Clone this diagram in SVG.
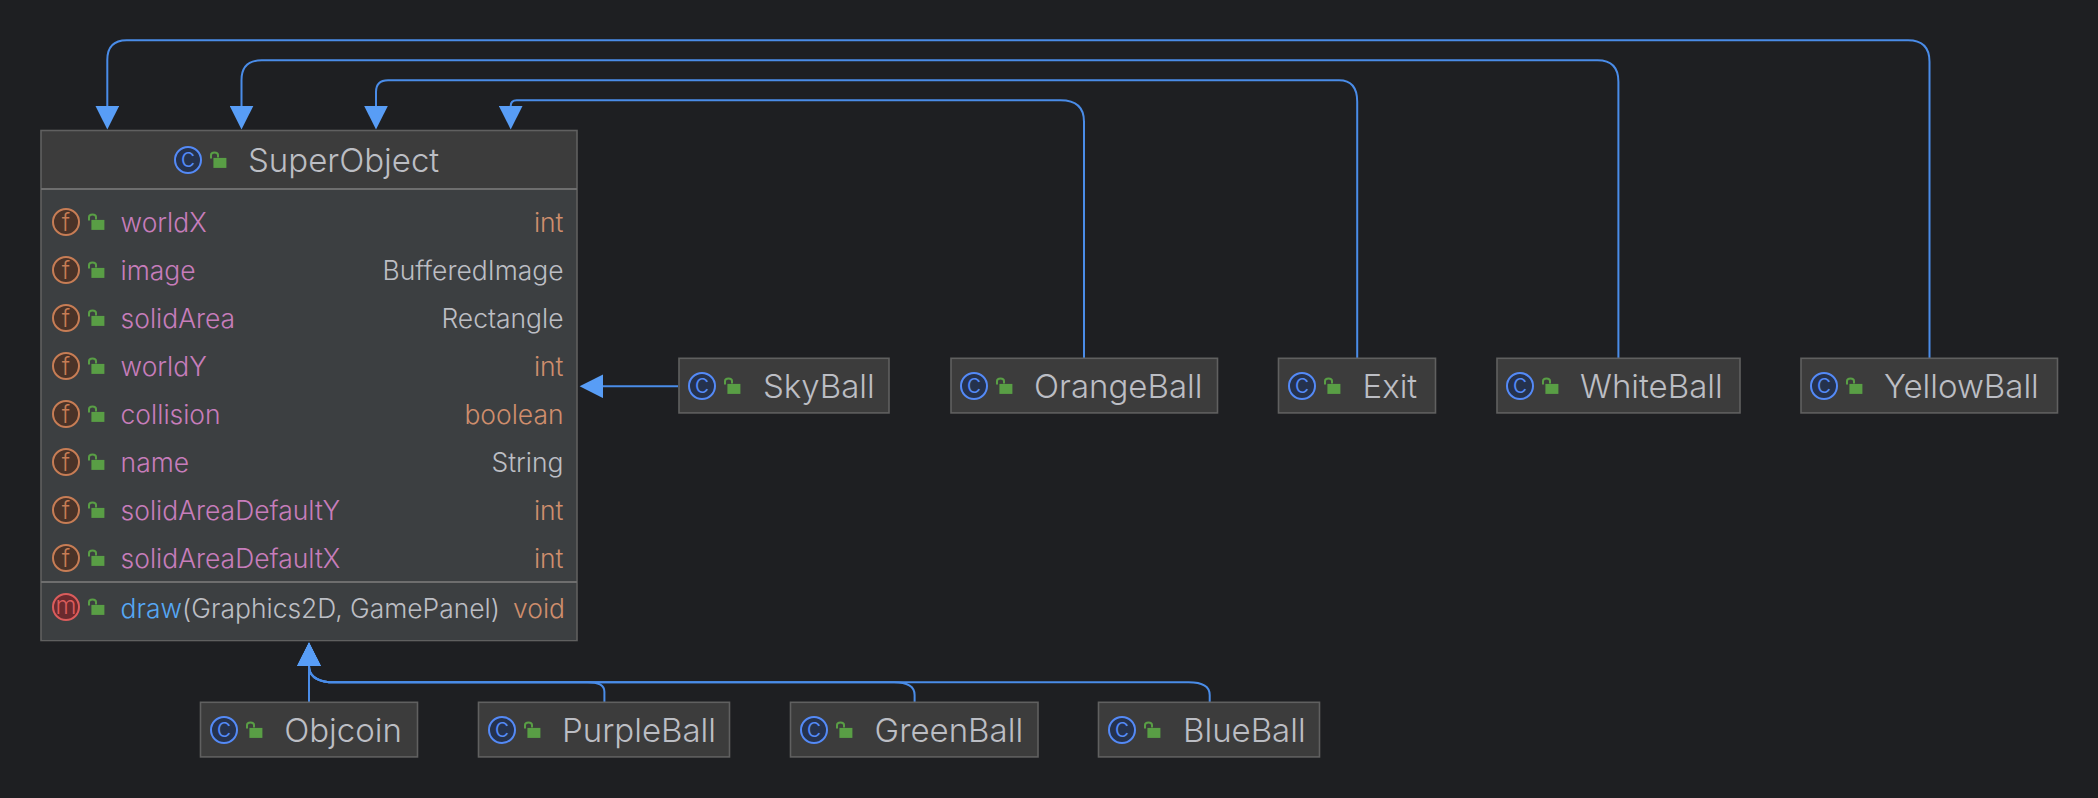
<svg xmlns="http://www.w3.org/2000/svg" width="2098" height="798" viewBox="0 0 2098 798">
<style>
text{font-family:"Inter","Noto Sans","Liberation Sans",sans-serif;fill:#BCBEC4;font-weight:300}
.box{fill:#3C3C3C;stroke:#606060;stroke-width:1.6}
.body{fill:#3C3F41}
.div{stroke:#6E6E6E;stroke-width:2;fill:none}
.title{font-size:33px}
.row{font-size:26.45px}
.fld{fill:#C77DBB}
.kw{fill:#CF8E6D}
.mth{fill:#56A8F5}
.ty{text-anchor:end}
.ic{font-size:26px;text-anchor:middle}
.cc{fill:#25324D;stroke:#548AF7;stroke-width:2}
.ct{fill:#548AF7}
.fc{fill:#4A3328;stroke:#C77D55;stroke-width:2}
.ft{fill:#C77D55;font-size:24px}
.mc{fill:#6B2A2E;stroke:#DB5C5C;stroke-width:2}
.mt{fill:#DB5C5C;font-size:24px}
.conn{fill:none;stroke:#4A8CE8;stroke-width:2;marker-end:url(#tri)}
</style>
<defs>
<marker id="tri" markerUnits="userSpaceOnUse" markerWidth="24" markerHeight="24" refX="0" refY="12" orient="auto"><path d="M0 0.2L23.4 12L0 23.8z" fill="#589DF6"/></marker>
<g id="lock"><path d="M1 7V3.5Q1 1 4.5 1T8 3.5V6" fill="none" stroke="#599E45" stroke-width="2"/><rect x="3.4" y="6.4" width="13" height="10" fill="#599E45"/></g>
</defs>
<rect width="2098" height="798" fill="#1E1F22"/>
<g id="connectors">
<path class="conn" d="M1929.5 358V61.7Q1929.5 40.3 1908 40.3H126.7Q107.3 40.3 107.3 60V106"/>
<path class="conn" d="M1618.4 358V81.7Q1618.4 60.3 1597.5 60.3H261.7Q241.5 60.3 241.5 80V106"/>
<path class="conn" d="M1357.2 358V101.7Q1357.2 80.3 1339 80.3H388Q376 80.3 376 92V106"/>
<path class="conn" d="M1084 358V121.7Q1084 100.3 1060.5 100.3H516.7Q510.7 100.3 510.7 106"/>
<path class="conn" d="M678 386.3H603" />
<path class="conn" d="M309 702V666"/>
<path class="conn" d="M604.4 702V691.7Q604.4 682.3 587.6 682.3H329Q309 680 309 666"/>
<path class="conn" d="M914.6 702V695Q914.6 682.3 894 682.3H329Q309 680 309 666"/>
<path class="conn" d="M1209.7 702V695Q1209.7 682.3 1188.6 682.3H329Q309 680 309 666"/>
</g>
<g id="SuperObject">
<rect class="box" x="41" y="130.5" width="536" height="510"/>
<rect class="body" x="42" y="190" width="534" height="450"/>
<path class="div" d="M41 189H577M41 582H577"/>
<circle class="cc" cx="188" cy="160" r="13"/><text class="ic ct" x="188" y="167">c</text>
<use href="#lock" x="210" y="151.5"/>
<text class="title" x="248" y="171.5">SuperObject</text>
<circle class="fc" cx="66" cy="222" r="13"/><text class="ic ft" x="66" y="230.5">f</text><use href="#lock" x="88" y="213.5"/><text class="row fld" x="120.6" y="232">worldX</text><text class="row ty kw" x="563.5" y="232">int</text>
<circle class="fc" cx="66" cy="270" r="13"/><text class="ic ft" x="66" y="278.5">f</text><use href="#lock" x="88" y="261.5"/><text class="row fld" x="120.6" y="280">image</text><text class="row ty" x="563.5" y="280">BufferedImage</text>
<circle class="fc" cx="66" cy="318" r="13"/><text class="ic ft" x="66" y="326.5">f</text><use href="#lock" x="88" y="309.5"/><text class="row fld" x="120.6" y="328">solidArea</text><text class="row ty" x="563.5" y="328">Rectangle</text>
<circle class="fc" cx="66" cy="366" r="13"/><text class="ic ft" x="66" y="374.5">f</text><use href="#lock" x="88" y="357.5"/><text class="row fld" x="120.6" y="376">worldY</text><text class="row ty kw" x="563.5" y="376">int</text>
<circle class="fc" cx="66" cy="414" r="13"/><text class="ic ft" x="66" y="422.5">f</text><use href="#lock" x="88" y="405.5"/><text class="row fld" x="120.6" y="424">collision</text><text class="row ty kw" x="563.5" y="424">boolean</text>
<circle class="fc" cx="66" cy="462" r="13"/><text class="ic ft" x="66" y="470.5">f</text><use href="#lock" x="88" y="453.5"/><text class="row fld" x="120.6" y="472">name</text><text class="row ty" x="563.5" y="472">String</text>
<circle class="fc" cx="66" cy="510" r="13"/><text class="ic ft" x="66" y="518.5">f</text><use href="#lock" x="88" y="501.5"/><text class="row fld" x="120.6" y="520">solidAreaDefaultY</text><text class="row ty kw" x="563.5" y="520">int</text>
<circle class="fc" cx="66" cy="558" r="13"/><text class="ic ft" x="66" y="566.5">f</text><use href="#lock" x="88" y="549.5"/><text class="row fld" x="120.6" y="568">solidAreaDefaultX</text><text class="row ty kw" x="563.5" y="568">int</text>
<circle class="mc" cx="66" cy="607" r="13"/><text class="ic mt" x="66" y="613.5">m</text><use href="#lock" x="88" y="598.5"/><text class="row" x="120.6" y="617.5"><tspan class="mth">draw</tspan>(Graphics2D, GamePanel)</text><text class="row ty kw" x="565" y="617.5">void</text>
</g>
<g id="SkyBall"><rect class="box" x="679" y="358.3" width="210" height="54.6"/><circle class="cc" cx="702" cy="386" r="13"/><text class="ic ct" x="702" y="393">c</text><use href="#lock" x="724" y="377.5"/><text class="title" x="763" y="398">SkyBall</text></g>
<g id="OrangeBall"><rect class="box" x="951" y="358.3" width="266.5" height="54.6"/><circle class="cc" cx="974" cy="386" r="13"/><text class="ic ct" x="974" y="393">c</text><use href="#lock" x="996" y="377.5"/><text class="title" x="1034" y="398">OrangeBall</text></g>
<g id="Exit"><rect class="box" x="1278.5" y="358.3" width="157" height="54.6"/><circle class="cc" cx="1302" cy="386" r="13"/><text class="ic ct" x="1302" y="393">c</text><use href="#lock" x="1324" y="377.5"/><text class="title" x="1362.5" y="398">Exit</text></g>
<g id="WhiteBall"><rect class="box" x="1497" y="358.3" width="243" height="54.6"/><circle class="cc" cx="1520" cy="386" r="13"/><text class="ic ct" x="1520" y="393">c</text><use href="#lock" x="1542" y="377.5"/><text class="title" x="1580" y="398">WhiteBall</text></g>
<g id="YellowBall"><rect class="box" x="1801" y="358.3" width="256.5" height="54.6"/><circle class="cc" cx="1824" cy="386" r="13"/><text class="ic ct" x="1824" y="393">c</text><use href="#lock" x="1846" y="377.5"/><text class="title" x="1884" y="398">YellowBall</text></g>
<g id="Objcoin"><rect class="box" x="200.5" y="702.3" width="217" height="54.6"/><circle class="cc" cx="224" cy="730" r="13"/><text class="ic ct" x="224" y="737">c</text><use href="#lock" x="246" y="721.5"/><text class="title" x="284.2" y="742">Objcoin</text></g>
<g id="PurpleBall"><rect class="box" x="478.5" y="702.3" width="251" height="54.6"/><circle class="cc" cx="502" cy="730" r="13"/><text class="ic ct" x="502" y="737">c</text><use href="#lock" x="524" y="721.5"/><text class="title" x="562" y="742">PurpleBall</text></g>
<g id="GreenBall"><rect class="box" x="790.5" y="702.3" width="247.5" height="54.6"/><circle class="cc" cx="814" cy="730" r="13"/><text class="ic ct" x="814" y="737">c</text><use href="#lock" x="836" y="721.5"/><text class="title" x="874.6" y="742">GreenBall</text></g>
<g id="BlueBall"><rect class="box" x="1098.5" y="702.3" width="221" height="54.6"/><circle class="cc" cx="1122" cy="730" r="13"/><text class="ic ct" x="1122" y="737">c</text><use href="#lock" x="1144" y="721.5"/><text class="title" x="1183" y="742">BlueBall</text></g>
</svg>
